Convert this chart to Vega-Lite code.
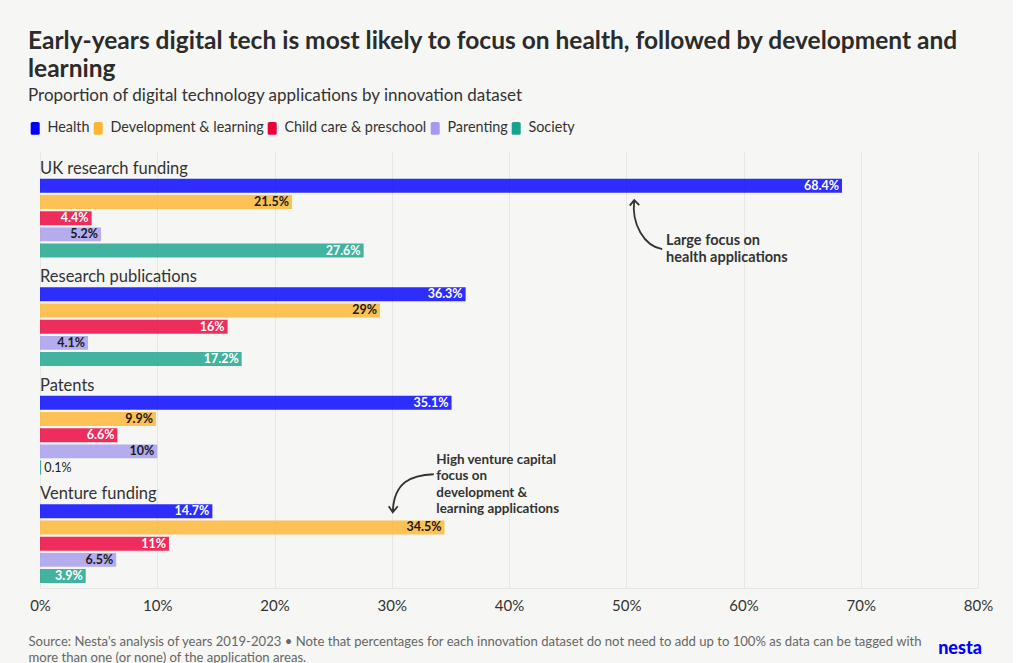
{
  "$schema": "https://vega.github.io/schema/vega-lite/v6.json",
  "background": "#f6f7f4",
  "padding": {"left": 28, "top": 28, "right": 20, "bottom": 0},
  "config": {"view": {"stroke": null}, "font": "Lato"},
  "title": {
    "text": ["Early-years digital tech is most likely to focus on health, followed by development and", "learning"],
    "subtitle": "Proportion of digital technology applications by innovation dataset",
    "anchor": "start",
    "frame": "bounds",
    "font": "Lato",
    "fontSize": 24.5,
    "fontWeight": "bold",
    "lineHeight": 28,
    "color": "#2b2b2b",
    "subtitleFont": "Lato",
    "subtitleFontSize": 17,
    "subtitleColor": "#333333",
    "subtitlePadding": 6,
    "offset": 16
  },
  "vconcat": [
    {
      "width": 938,
      "height": 436,
      "title": {"text": "nesta", "orient": "bottom", "anchor": "end", "frame": "group", "color": "#0000ff", "font": "Lato", "fontSize": 18, "fontWeight": 900, "offset": -24, "dx": 4},
      "data": {
        "values": [
          {"dataset": "UK research funding", "category": "Health", "value": 68.4},
          {"dataset": "UK research funding", "category": "Development & learning", "value": 21.5},
          {"dataset": "UK research funding", "category": "Child care & preschool", "value": 4.4},
          {"dataset": "UK research funding", "category": "Parenting", "value": 5.2},
          {"dataset": "UK research funding", "category": "Society", "value": 27.6},
          {"dataset": "Research publications", "category": "Health", "value": 36.3},
          {"dataset": "Research publications", "category": "Development & learning", "value": 29},
          {"dataset": "Research publications", "category": "Child care & preschool", "value": 16},
          {"dataset": "Research publications", "category": "Parenting", "value": 4.1},
          {"dataset": "Research publications", "category": "Society", "value": 17.2},
          {"dataset": "Patents", "category": "Health", "value": 35.1},
          {"dataset": "Patents", "category": "Development & learning", "value": 9.9},
          {"dataset": "Patents", "category": "Child care & preschool", "value": 6.6},
          {"dataset": "Patents", "category": "Parenting", "value": 10},
          {"dataset": "Patents", "category": "Society", "value": 0.1},
          {"dataset": "Venture funding", "category": "Health", "value": 14.7},
          {"dataset": "Venture funding", "category": "Development & learning", "value": 34.5},
          {"dataset": "Venture funding", "category": "Child care & preschool", "value": 11},
          {"dataset": "Venture funding", "category": "Parenting", "value": 6.5},
          {"dataset": "Venture funding", "category": "Society", "value": 3.9}
        ]
      },
      "transform": [{"calculate": "datum.value + '%'", "as": "label"}],
      "encoding": {
        "y": {
          "field": "dataset", "type": "nominal",
          "scale": {"domain": ["UK research funding", "Research publications", "Patents", "Venture funding"], "paddingInner": 0.2535, "paddingOuter": 0.136, "align": 0.87},
          "axis": null
        }
      },
      "layer": [
        {
          "mark": {"type": "bar", "opacity": 0.82},
          "encoding": {
            "x": {
              "field": "value", "type": "quantitative",
              "scale": {"domain": [0, 80], "nice": false},
              "axis": {
                "values": [0, 10, 20, 30, 40, 50, 60, 70, 80],
                "labelExpr": "datum.value + '%'", "labelFlush": false,
                "labelFont": "Lato", "labelFontSize": 15, "labelColor": "#333333", "labelPadding": 10,
                "ticks": false, "domain": true, "domainColor": "#e6e6e4",
                "grid": true, "gridColor": "#e6e6e4", "gridWidth": 1,
                "title": ["Source: Nesta's analysis of years 2019-2023 • Note that percentages for each innovation dataset do not need to add up to 100% as data can be tagged with", "more than one (or none) of the application areas."],
                "titleFont": "Lato", "titleFontSize": 13.1, "titleFontWeight": "normal", "titleColor": "#666666",
                "titleAnchor": "start", "titleAlign": "left", "titleX": -12, "titlePadding": 22, "titleLineHeight": 16
              }
            },
            "yOffset": {
              "field": "category", "type": "nominal",
              "scale": {"domain": ["Health", "Development & learning", "Child care & preschool", "Parenting", "Society"], "paddingInner": 0.14, "paddingOuter": 0.07}
            },
            "color": {
              "field": "category", "type": "nominal",
              "scale": {"domain": ["Health", "Development & learning", "Child care & preschool", "Parenting", "Society"], "range": ["#0000ff", "#fdb633", "#eb003b", "#a59bee", "#18a48c"]},
              "legend": {
                "orient": "none", "legendX": -12, "legendY": -31, "direction": "horizontal", "title": null,
                "symbolType": "M-0.6,-1.44H0.6Q1,-1.44 1,-1.1V1.1Q1,1.44 0.6,1.44H-0.6Q-1,1.44 -1,1.1V-1.1Q-1,-1.44 -0.6,-1.44Z",
                "symbolSize": 81, "symbolOpacity": 1, "symbolStrokeWidth": 0,
                "labelFont": "Lato", "labelFontSize": 14.4, "labelColor": "#333333", "labelOffset": 5,
                "columnPadding": 1
              }
            }
          }
        },
        {
          "transform": [{"filter": "datum.value >= 2"}],
          "mark": {"type": "text", "align": "right", "dx": -3, "baseline": "middle", "font": "Lato", "fontSize": 12.5, "fontWeight": "bold"},
          "encoding": {
            "x": {"field": "value", "type": "quantitative"},
            "yOffset": {"field": "category", "type": "nominal"},
            "text": {"field": "label"},
            "color": {"condition": {"test": "datum.category === 'Development & learning' || datum.category === 'Parenting'", "value": "#1a1a1a"}, "value": "#ffffff"}
          }
        },
        {
          "transform": [{"filter": "datum.value < 2"}],
          "mark": {"type": "text", "align": "left", "dx": 3, "baseline": "middle", "font": "Lato", "fontSize": 12.5, "color": "#1a1a1a"},
          "encoding": {
            "x": {"field": "value", "type": "quantitative"},
            "yOffset": {"field": "category", "type": "nominal"},
            "text": {"field": "label"}
          }
        },
        {
          "transform": [{"aggregate": [{"op": "count", "as": "n"}], "groupby": ["dataset"]}],
          "mark": {"type": "text", "align": "left", "baseline": "alphabetic", "dy": -4, "font": "Lato", "fontSize": 16.5, "color": "#333333"},
          "encoding": {
            "x": {"datum": 0},
            "y": {"field": "dataset", "type": "nominal", "bandPosition": 0},
            "text": {"field": "dataset"}
          }
        },
        {
          "data": {"values": [{"dataset": "UK research funding", "category": "Child care & preschool", "x": 50}]},
          "mark": {"type": "point", "shape": "M36,31C18,28 5,6 8,-18M3.5,-12.5L8,-18L13,-13", "size": 4, "filled": false, "stroke": "#333333", "strokeWidth": 1.8, "opacity": 1},
          "encoding": {
            "x": {"field": "x", "type": "quantitative"},
            "yOffset": {"field": "category", "type": "nominal"}
          }
        },
        {
          "data": {"values": [{"dataset": "Venture funding", "category": "Health", "x": 30}]},
          "mark": {"type": "point", "shape": "M42,-37C20,-36 2,-30 1,1M-3,-5L1,1L6,-5", "size": 4, "filled": false, "stroke": "#333333", "strokeWidth": 1.8, "opacity": 1},
          "encoding": {
            "x": {"field": "x", "type": "quantitative"},
            "yOffset": {"field": "category", "type": "nominal"}
          }
        },
        {
          "data": {"values": [{"dataset": "UK research funding", "category": "Parenting", "x": 53.4, "note": "Large focus on\nhealth applications"}]},
          "mark": {"type": "text", "align": "left", "baseline": "top", "dy": 0, "lineBreak": "\n", "lineHeight": 16.6, "font": "Lato", "fontSize": 14.5, "fontWeight": "bold", "color": "#333333"},
          "encoding": {
            "x": {"field": "x", "type": "quantitative"},
            "yOffset": {"field": "category", "type": "nominal"},
            "text": {"field": "note"}
          }
        },
        {
          "data": {"values": [{"dataset": "Venture funding", "category": "Health", "x": 33.8, "note": "High venture capital\nfocus on\ndevelopment &\nlearning applications"}]},
          "mark": {"type": "text", "align": "left", "baseline": "top", "dy": -58, "lineBreak": "\n", "lineHeight": 16.2, "font": "Lato", "fontSize": 13.4, "fontWeight": "bold", "color": "#333333"},
          "encoding": {
            "x": {"field": "x", "type": "quantitative"},
            "yOffset": {"field": "category", "type": "nominal"},
            "text": {"field": "note"}
          }
        }
      ]
    }
  ]
}
